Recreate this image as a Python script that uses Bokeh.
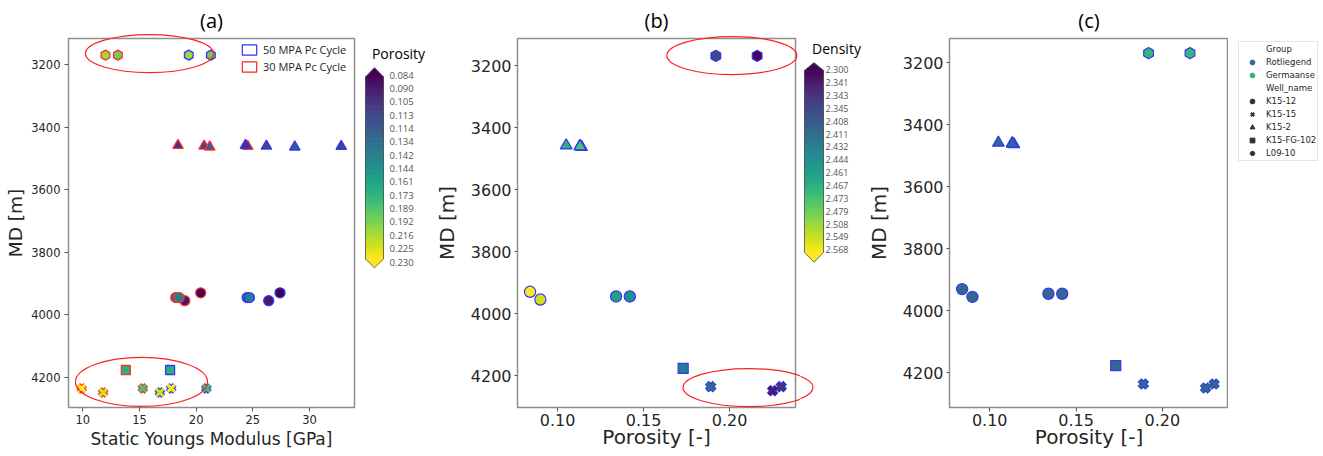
import numpy as np
from bokeh.plotting import figure
from bokeh.models import (Range1d, FixedTicker, ColumnDataSource, LinearColorMapper,
                          Legend, LegendItem, PrintfTickFormatter)
from bokeh.layouts import row
from bokeh.palettes import Viridis256
from bokeh.transform import factor_cmap, transform
from bokeh.core.properties import value
from bokeh.embed import file_html
from bokeh.resources import INLINE

# ---------------- data ----------------
porosity_levels = [0.084, 0.090, 0.105, 0.113, 0.114, 0.134, 0.142, 0.144, 0.161,
                   0.173, 0.189, 0.192, 0.216, 0.225, 0.230]
porosity_labels = ["0.084", "0.090", "0.105", "0.113", "0.114", "0.134", "0.142", "0.144",
                   "0.161", "0.173", "0.189", "0.192", "0.216", "0.225", "0.230"]
density_levels = [2.300, 2.341, 2.343, 2.345, 2.408, 2.411, 2.432, 2.444, 2.461,
                  2.467, 2.473, 2.479, 2.508, 2.549, 2.568]
density_labels = ["2.300", "2.341", "2.343", "2.345", "2.408", "2.411", "2.432", "2.444",
                  "2.461", "2.467", "2.473", "2.479", "2.508", "2.549", "2.568"]

well = ["L09-10", "L09-10", "K15-2", "K15-2", "K15-2", "K15-2", "K15-12", "K15-12",
        "K15-12", "K15-12", "K15-FG-102", "K15-15", "K15-15", "K15-15"]
group = ["Germaanse", "Germaanse", "Rotliegend", "Rotliegend", "Rotliegend", "Rotliegend",
         "Rotliegend", "Rotliegend", "Rotliegend", "Rotliegend", "Rotliegend", "Rotliegend",
         "Rotliegend", "Rotliegend"]
porosity = [0.216, 0.192, 0.105, 0.113, 0.114, 0.113, 0.084, 0.090, 0.134, 0.142,
            0.173, 0.230, 0.225, 0.189]
md = [3169, 3169, 3458, 3460, 3463, 3461, 3930, 3955, 3945, 3945, 4177, 4236, 4249, 4236]
density = [2.300, 2.345, 2.467, 2.473, 2.479, 2.473, 2.568, 2.549, 2.461, 2.444,
           2.432, 2.343, 2.341, 2.411]
youngs_30 = [12.0, 13.1, 18.4, 20.7, 21.2, 24.55, 20.4, 19.0, 18.2, 18.5, 13.8, 9.9, 11.8, 15.3]
youngs_50 = [19.35, 21.3, 24.35, 26.2, 28.7, 32.8, 27.4, 26.4, 24.5, 24.7, 17.7, 17.8, 16.8, 20.9]

md_ticks = [3200, 3400, 3600, 3800, 4000, 4200]
youngs_ticks = [10, 15, 20, 25, 30]
porosity_ticks = [0.10, 0.15, 0.20]

group_names = ["Rotliegend", "Germaanse"]
well_names = ["K15-12", "K15-15", "K15-2", "K15-FG-102", "L09-10"]

# ---------------- styles ----------------
GROUP_COLORS = ["#31688e", "#35b779"]
MARKER = {"K15-12": "circle", "K15-15": "x", "K15-2": "triangle", "K15-FG-102": "square",
          "L09-10": "hex"}
ANGLE = {"circle": 0.0, "triangle": 0.0, "square": 0.0, "hex": np.pi / 6, "x": 0.0}
SIZE = {"circle": 10, "triangle": 10.5, "square": 9, "hex": 10, "x": 10}
RED = "#ff3030"
BLUE = "#3535f5"
TXT = "#262626"
H = 456
TOP, BOTTOM = 38, 49
NAN = float("nan")


def sources(xvals, scale):
    cols = ["x", "y", "marker", "angle", "size", "por_i", "dens_i", "group"]
    a = {c: [] for c in cols}
    b = {c: [] for c in cols}
    for k in range(len(well)):
        m = MARKER[well[k]]
        d = b if m == "x" else a
        d["x"].append(xvals[k])
        d["y"].append(md[k])
        d["marker"].append(m)
        d["angle"].append(ANGLE[m])
        d["size"].append(SIZE[m] * scale)
        d["por_i"].append(porosity_levels.index(porosity[k]))
        d["dens_i"].append(density_levels.index(density[k]))
        d["group"].append(group[k])
    return ColumnDataSource(a), ColumnDataSource(b)


def draw_points(p, srcs, color, edge, lw, xs):
    sm, sx = srcs
    p.scatter("x", "y", source=sm, marker="marker", angle="angle", size="size",
              fill_color=color, line_color=edge, line_width=lw)
    p.scatter("x", "y", source=sx, marker="x", size=xs, line_color=edge, line_width=5.5)
    p.scatter("x", "y", source=sx, marker="x", size=xs, line_color=color, line_width=3.2)


def style(p, tick_px, lab_px, title_px):
    p.grid.visible = False
    p.outline_line_color = "#8f8f8f"
    p.outline_line_width = 1.5
    p.background_fill_color = "white"
    p.border_fill_color = "white"
    for ax in (p.xaxis[0], p.yaxis[0]):
        ax.major_label_text_font = "DejaVu Sans"
        ax.major_label_text_font_size = tick_px
        ax.major_label_text_color = TXT
        ax.axis_label_text_font = "DejaVu Sans"
        ax.axis_label_text_font_size = lab_px
        ax.axis_label_text_font_style = "normal"
        ax.axis_label_text_color = TXT
        ax.axis_line_color = None
        ax.major_tick_line_color = "#555555"
        ax.major_tick_out = 4
        ax.major_tick_in = 0
        ax.minor_tick_line_color = None
    p.title.text_font = "Open Sans"
    p.title.text_font_size = title_px
    p.title.text_font_style = "normal"
    p.title.text_color = "black"
    p.title.align = "center"
    p.title.standoff = 9


def blank(x0, width):
    f = figure(width=width, height=H, x_range=Range1d(x0, x0 + width),
               y_range=Range1d(H - BOTTOM, TOP), min_border_left=0, min_border_right=0,
               min_border_top=TOP, min_border_bottom=BOTTOM, toolbar_location=None,
               x_axis_location=None, y_axis_location=None, outline_line_color=None,
               output_backend="svg")
    f.grid.visible = False
    f.border_fill_color = "white"
    return f


# ---------------- panel (a) ----------------
pA = figure(width=356, height=H, min_border_left=68, min_border_right=2,
            min_border_top=TOP, min_border_bottom=BOTTOM, x_range=Range1d(8.74, 33.97),
            y_range=Range1d(4297, 3115.8), toolbar_location=None, output_backend="svg",
            title="(a)")
style(pA, "11.5px", "17px", "20px")
pA.xaxis.axis_label = "Static Youngs Modulus [GPa]"
pA.yaxis.axis_label = "MD [m]"
pA.yaxis.axis_label_text_font_size = "18.5px"
pA.xaxis.ticker = FixedTicker(ticks=youngs_ticks)
pA.yaxis.ticker = FixedTicker(ticks=md_ticks)
pA.xaxis.major_label_standoff = 3
pA.xaxis.axis_label_standoff = 2
pA.yaxis.major_label_standoff = 4
pA.yaxis.axis_label_standoff = 2

por_mapper = LinearColorMapper(palette=Viridis256, low=0, high=len(porosity_levels) - 1)
por_color = transform("por_i", por_mapper)
draw_points(pA, sources(youngs_30, 1.0), por_color, RED, 1.3, 10)
draw_points(pA, sources(youngs_50, 1.0), por_color, BLUE, 1.3, 10)

pA.ellipse(x=[15.88, 15.18], y=[3164, 4215], width=[128, 132], height=[38, 49],
           width_units="screen", height_units="screen", fill_color=None,
           line_color="#ff2020", line_width=1.2, level="overlay")

r50 = pA.quad(left=[NAN], right=[NAN], top=[NAN], bottom=[NAN], fill_alpha=0,
              line_color="#3030ff", line_width=1.2)
r30 = pA.quad(left=[NAN], right=[NAN], top=[NAN], bottom=[NAN], fill_alpha=0,
              line_color="#ff2020", line_width=1.2)
legA = Legend(items=[LegendItem(label="50 MPA Pc Cycle", renderers=[r50]),
                     LegendItem(label="30 MPA Pc Cycle", renderers=[r30])],
              location=(172, 333), padding=0, margin=0, spacing=2, glyph_width=18,
              glyph_height=13, label_height=13, label_standoff=5,
              label_text_font="Open Sans", label_text_font_size="11px",
              label_text_color=TXT, border_line_color=None, background_fill_alpha=0)
pA.add_layout(legA)


# ---------------- colorbars ----------------
def colorbar(x0, width, labels, title, bar_l, bar_r, tip_t, int_t, int_b, tip_b,
             tick_t, tick_b, lab_x, title_x, title_y, lab_px, extra_ellipse=None):
    f = blank(x0, width)
    edges = np.linspace(int_t, int_b, len(Viridis256) + 1)
    f.quad(left=bar_l, right=bar_r, top=edges[:-1], bottom=edges[1:],
           fill_color=list(Viridis256), line_color=list(Viridis256), line_width=0.6)
    mid = (bar_l + bar_r) / 2
    f.patch([bar_l, bar_r, mid], [int_t, int_t, tip_t], fill_color=Viridis256[0],
            line_color=Viridis256[0], line_width=0.6)
    f.patch([bar_l, bar_r, mid], [int_b, int_b, tip_b], fill_color=Viridis256[-1],
            line_color=Viridis256[-1], line_width=0.6)
    f.line([bar_l, mid, bar_r, bar_r, mid, bar_l, bar_l],
           [int_t, tip_t, int_t, int_b, tip_b, int_b, int_t], line_color="#505050",
           line_width=0.8)
    n = len(labels)
    ys = [tick_t + i * (tick_b - tick_t) / (n - 1) for i in range(n)]
    f.text(x=[lab_x] * n, y=ys, text=labels, text_font=value("Open Sans"),
           text_font_size=lab_px, text_color="#555555", text_baseline="middle",
           text_align="left")
    f.text(x=[title_x], y=[title_y], text=[title], text_font=value("Open Sans"),
           text_font_size="14px", text_color="black", text_baseline="middle",
           text_align="center")
    if extra_ellipse is not None:
        f.ellipse(**extra_ellipse, fill_color=None, line_color="#ff2020", line_width=1.2)
    return f


cA = colorbar(356, 75, porosity_labels, "Porosity", 365, 383, 67.3, 76.5, 258.5, 267.3,
              74.5, 261.5, 389, 398, 52.7, "9.5px")

# ---------------- panel (b) ----------------
pB = figure(width=369, height=H, min_border_left=80, min_border_right=5,
            min_border_top=TOP, min_border_bottom=BOTTOM, x_range=Range1d(0.0767, 0.2383),
            y_range=Range1d(4303.2, 3112.9), toolbar_location=None, output_backend="svg",
            title="(b)")
style(pB, "16px", "20px", "20px")
pB.xaxis.axis_label = "Porosity [-]"
pB.yaxis.axis_label = "MD [m]"
pB.xaxis.ticker = FixedTicker(ticks=porosity_ticks)
pB.xaxis.formatter = PrintfTickFormatter(format="%.2f")
pB.yaxis.ticker = FixedTicker(ticks=md_ticks)
pB.xaxis.major_label_standoff = 2
pB.xaxis.axis_label_standoff = -4
pB.yaxis.major_tick_out = 3
pB.yaxis.major_label_standoff = 3
pB.yaxis.axis_label_standoff = 9

dens_mapper = LinearColorMapper(palette=Viridis256, low=0, high=len(density_levels) - 1)
draw_points(pB, sources(porosity, 1.12), transform("dens_i", dens_mapper), BLUE, 1.2, 11)
pB.ellipse(x=[0.2013, 0.211], y=[3168, 4239], width=[130, 131], height=[38, 38],
           width_units="screen", height_units="screen", fill_color=None,
           line_color="#ff2020", line_width=1.2, level="overlay")

cB = colorbar(800, 63, density_labels, "Density", 804, 823, 62.3, 70, 252, 261.7,
              69.3, 249.3, 825, 836, 48.3, "9px",
              extra_ellipse=dict(x=[747], y=[387], width=[131], height=[38]))

# ---------------- panel (c) ----------------
pC = figure(width=365, height=H, min_border_left=81, min_border_right=0,
            min_border_top=TOP, min_border_bottom=BOTTOM, x_range=Range1d(0.0767, 0.2383),
            y_range=Range1d(4311.9, 3121.6), toolbar_location=None, output_backend="svg",
            title="(c)")
style(pC, "16px", "20px", "20px")
pC.xaxis.axis_label = "Porosity [-]"
pC.yaxis.axis_label = "MD [m]"
pC.xaxis.ticker = FixedTicker(ticks=porosity_ticks)
pC.xaxis.formatter = PrintfTickFormatter(format="%.2f")
pC.yaxis.ticker = FixedTicker(ticks=md_ticks)
pC.xaxis.major_label_standoff = 2
pC.xaxis.axis_label_standoff = -4
pC.yaxis.major_tick_out = 3
pC.yaxis.major_label_standoff = 3
pC.yaxis.axis_label_standoff = 9

grp_color = factor_cmap("group", palette=GROUP_COLORS, factors=group_names)
draw_points(pC, sources(porosity, 1.12), grp_color, BLUE, 1.2, 11)

# ---------------- legend of (c) ----------------
lC = blank(1228, 95)
items = []
hdr1 = lC.scatter(x=[NAN], y=[NAN], fill_alpha=0, line_alpha=0)
items.append(LegendItem(label="Group", renderers=[hdr1]))
for g, c in zip(group_names, GROUP_COLORS):
    r = lC.scatter(x=[NAN], y=[NAN], marker="circle", fill_color=c, line_color=c)
    items.append(LegendItem(label=g, renderers=[r]))
hdr2 = lC.scatter(x=[NAN], y=[NAN], fill_alpha=0, line_alpha=0)
items.append(LegendItem(label="Well_name", renderers=[hdr2]))
for w in well_names:
    m = MARKER[w]
    if m == "x":
        r = lC.scatter(x=[NAN], y=[NAN], marker="x", line_color="#333333", line_width=2)
    else:
        r = lC.scatter(x=[NAN], y=[NAN], marker=m, angle=ANGLE[m], fill_color="#333333",
                       line_color="#333333")
    items.append(LegendItem(label=w, renderers=[r]))
legC = Legend(items=items, location=(10, 246), padding=1, margin=0, spacing=1,
              glyph_width=24, glyph_height=12, label_height=12, label_standoff=2,
              label_text_font="DejaVu Sans", label_text_font_size="8.5px",
              label_text_color=TXT, border_line_color="#cccccc", border_line_width=1,
              background_fill_color="white", background_fill_alpha=0.8)
lC.add_layout(legC)

layout = row(pA, cA, pB, cB, pC, lC)
open("out.html", "w").write(file_html(layout, INLINE))
